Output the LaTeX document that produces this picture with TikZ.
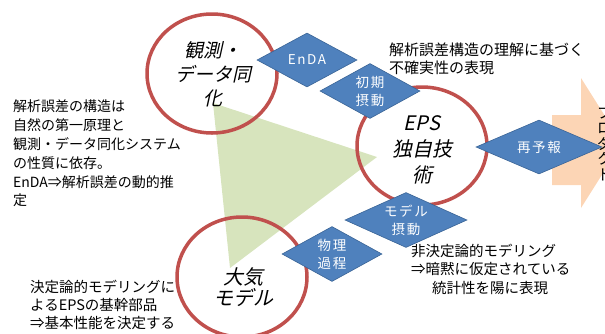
\documentclass[tikz,border=0pt]{standalone}
\usepackage{fontspec}
\usetikzlibrary{shapes.geometric}
\newfontfamily\jp{Noto Sans CJK JP}
\newfontfamily\jpit[FakeSlant=0.22]{Noto Sans CJK JP}
\newfontfamily\jpsp[LetterSpace=12]{Noto Sans CJK JP}
\definecolor{ringred}{HTML}{C0504D}
\definecolor{diablue}{HTML}{4F81BD}
\definecolor{diaedge}{HTML}{3A6496}
\definecolor{trigreen}{HTML}{D7E4BD}
\definecolor{arroworange}{HTML}{FCD5B5}
\tikzset{
  ring/.style={ellipse, draw=ringred, line width=3.5pt, inner sep=0pt, outer sep=0pt},
  dia/.style={diamond, fill=diablue, draw=diaedge, line width=0.6pt, inner sep=0pt},
  diatxt/.style={text=white, font=\jpsp\fontsize{13.5}{18}\selectfont, align=center, inner sep=0pt},
  ringtxt/.style={font=\jpit\fontsize{19}{24}\selectfont, align=center, inner sep=0pt},
  note/.style={font=\jp\fontsize{14.5}{18}\selectfont, align=left, inner sep=0pt, anchor=north west}
}
\begin{document}
\begin{tikzpicture}[x=1pt,y=-1pt]
\clip (0,0) rectangle (605,333);
% background shapes
\fill[trigreen] (213,103) -- (377,157) -- (230,268) -- cycle;
\fill[arroworange] (552,115) -- (581,115) -- (581,78) -- (622,143) -- (581,208) -- (581,185) -- (552,185) -- cycle;
% rings
\node[ring, minimum width=130pt, minimum height=119pt] (obs) at (212,73.5) {};
\node[ring, minimum width=130pt, minimum height=118pt] (eps) at (422,146) {};
\node[ring, minimum width=130pt, minimum height=120pt] (atm) at (242,277) {};
\node[ringtxt] (obs-t) at (213,74) {観測・\\データ同\\化};
\node[ringtxt, font=\jpit\fontsize{20}{26}\selectfont] (eps-t) at (422,150) {EPS\\独自技\\術};
\node[ringtxt, font=\jpit\fontsize{20}{21}\selectfont] (atm-t) at (243,287.5) {大気\\モデル};
% diamonds
\node[dia, minimum width=100pt, minimum height=54pt] (enda) at (307,60) {};
\node[dia, minimum width=100pt, minimum height=55pt] (init) at (370,91) {};
\node[dia, minimum width=126pt, minimum height=54pt] (refc) at (539,147) {};
\node[dia, minimum width=122pt, minimum height=55pt] (modp) at (406,220) {};
\node[dia, minimum width=100pt, minimum height=55pt] (phys) at (332,254) {};
\node[diatxt] (enda-t) at (enda) {EnDA};
\node[diatxt] (init-t) at (init) {初期\\摂動};
\node[diatxt] (refc-t) at (refc) {再予報};
\node[diatxt] (modp-t) at (modp) {モデル\\摂動};
\node[diatxt] (phys-t) at (phys) {物理\\過程};
% notes
\node[note, font=\jp\fontsize{14}{18.8}\selectfont] (left) at (13,100) {解析誤差の構造は\\自然の第一原理と\\観測・データ同化システム\\の性質に依存。\\EnDA⇒解析誤差の動的推\\定};
\node[note, font=\jp\fontsize{15}{18}\selectfont] (topr) at (389,42.5) {解析誤差構造の理解に基づく\\不確実性の表現};
\node[note] (botl) at (30,280) {決定論的モデリングに\\よるEPSの基幹部品\\⇒基本性能を決定する};
\node[note, font=\jp\fontsize{14.5}{18.5}\selectfont] (botr) at (411,243.7) {非決定論的モデリング\\⇒暗黙に仮定されている\\\hspace*{21pt}統計性を陽に表現};
\node[font=\jp\fontsize{15}{15.5}\selectfont, align=center, inner sep=0pt, anchor=north] (prod) at (604.5,105.5) {プ\\ロ\\ダ\\ク\\ト};
\end{tikzpicture}
\end{document}
